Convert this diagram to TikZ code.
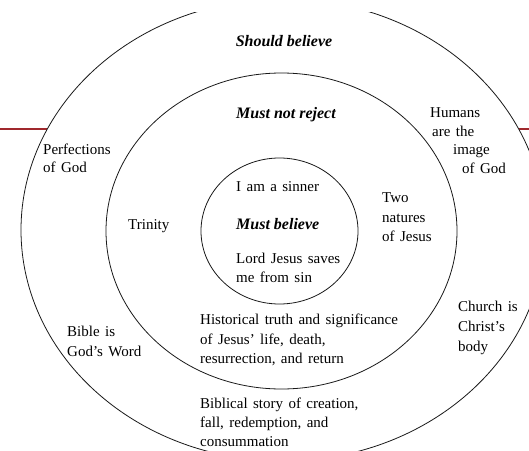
\documentclass[tikz,border=0pt]{standalone}
\usepackage{fontspec}
\setmainfont{Liberation Serif}
\usepackage{tikz}
\usetikzlibrary{positioning}
\definecolor{sliderule}{RGB}{160,40,45}
\definecolor{ringline}{RGB}{25,25,25}
\newcommand{\lblfont}[1]{\fontsize{15}{#1}\selectfont\spaceskip=0.36em plus 0.1em\relax}

\begin{document}
\begin{tikzpicture}[x=1pt, y=-1pt,
  every node/.style={inner sep=0pt},
  ring/.style={draw=ringline, line width=0.8pt},
  % multi-line labels sit on the baseline of their last line
  lbl/.style={font=\lblfont{19.5}, align=left, anchor=base west},
  head/.style={font=\fontsize{16}{19}\selectfont\bfseries\itshape, anchor=base}]
  \useasboundingbox (0,0) rectangle (529,450);
  % Slide rule behind the rings
  \draw[sliderule, line width=1.3pt] (0,129) -- (529,129);
  % Outer ring (cut at top and bottom)
  \begin{scope}
    \clip (0,12) rectangle (529,450);
    \filldraw[ring, fill=white] (283,230) ellipse [x radius=262, y radius=231];
  \end{scope}
  % Middle and inner rings
  \draw[ring] (281.5,231) ellipse [x radius=175.5, y radius=158];
  \draw[ring] (279.5,231) ellipse [x radius=78.5, y radius=73];
  % Ring headings
  \node[head] (should) at (284,46.5) {Should believe};
  \node[head] (mustnot) at (286,118.5) {Must not reject};
  \node[head, anchor=base west] (mustbel) at (236,229.5) {Must believe};
  % Inner ring
  \node[lbl] (sinner) at (236,191.5) {I am a sinner};
  \node[lbl, font=\lblfont{19}] (saves) at (236,282.5) {Lord Jesus saves\\me from sin};
  % Middle ring
  \node[lbl] (trinity) at (128,229.5) {Trinity};
  \node[lbl] (twonat) at (382,241.5) {Two\\natures\\of Jesus};
  \node[lbl] (history) at (200,363.5) {Historical truth and significance\\of Jesus' life, death,\\resurrection, and return};
  % Outer ring
  \node[lbl, font=\lblfont{18}] (perfect) at (43,172.5) {Perfections\\of God};
  \node[lbl, font=\lblfont{18.5}] (humans) at (430,173)
    {Humans\\\hspace*{2pt}are the\\\hspace*{23pt}image\\\hspace*{32pt}of God};
  \node[lbl, font=\lblfont{20}] (church) at (458,351.5) {Church is\\Christ's\\body};
  \node[lbl] (bible) at (67,356) {Bible is\\God's Word};
  \node[lbl, font=\lblfont{19}] (story) at (200,446.5) {Biblical story of creation,\\fall, redemption, and\\consummation};
\end{tikzpicture}
\end{document}
